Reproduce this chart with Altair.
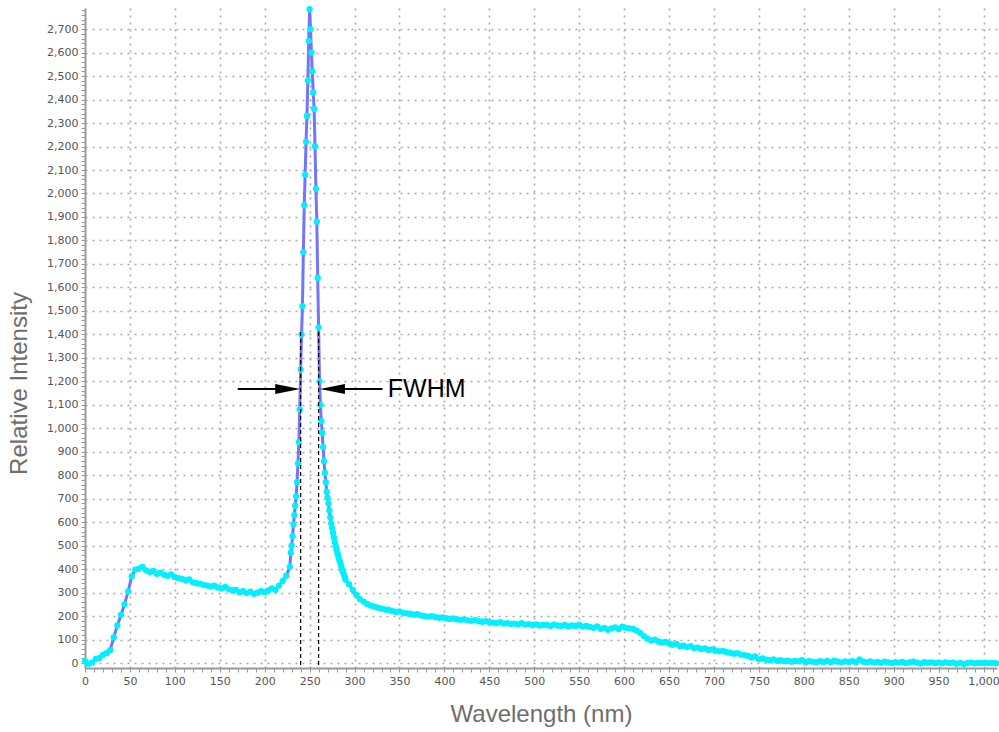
import altair as alt
import pandas as pd

# ---- spectrum ----
wavelength = [
    0, 4, 8, 12, 16, 20, 24, 28, 32, 36, 40, 44, 48, 52, 56, 60, 64, 68, 72, 76,
    80, 84, 88, 92, 96, 100, 104, 108, 112, 116, 120, 124, 128, 132, 136, 140, 144, 148, 152, 156,
    160, 164, 168, 172, 176, 180, 184, 188, 192, 196, 200, 204, 208, 212, 216, 220, 224, 228,
    229, 230, 231, 232, 233, 234, 235, 236, 237, 238, 239, 240, 241, 242, 243, 244, 245, 246, 247, 248,
    249, 250, 251, 252, 253, 254, 255, 256, 257, 258, 259, 260, 261, 262, 263, 264, 265, 266, 267, 268,
    269, 270, 271, 272, 273, 274, 275, 276, 277, 278, 279, 280, 281, 282, 283, 284, 285, 286, 287, 288,
    289, 290, 294, 298, 302, 306, 310, 314, 318, 322, 326, 330, 334, 338, 342, 346, 350, 354, 358, 362,
    366, 370, 374, 378, 382, 386, 390, 394, 398, 402, 406, 410, 414, 418, 422, 426, 430, 434, 438, 442,
    446, 450, 454, 458, 462, 466, 470, 474, 478, 482, 486, 490, 494, 498, 502, 506, 510, 514, 518, 522,
    526, 530, 534, 538, 542, 546, 550, 554, 558, 562, 566, 570, 574, 578, 582, 586, 590, 594, 598, 602,
    606, 610, 614, 618, 622, 626, 630, 634, 638, 642, 646, 650, 654, 658, 662, 666, 670, 674, 678, 682,
    686, 690, 694, 698, 702, 706, 710, 714, 718, 722, 726, 730, 734, 738, 742, 746, 750, 754, 758, 762,
    766, 770, 774, 778, 782, 786, 790, 794, 798, 802, 806, 810, 814, 818, 822, 826, 830, 834, 838, 842,
    846, 850, 854, 858, 862, 866, 870, 874, 878, 882, 886, 890, 894, 898, 902, 906, 910, 914, 918, 922,
    926, 930, 934, 938, 942, 946, 950, 954, 958, 962, 966, 970, 974, 978, 982, 986, 990, 994, 998, 1002,
    1006, 1010, 1014,
]
intensity = [
    8, -3, 2, 18, 22, 35, 42, 55, 110, 160, 205, 250, 305, 370, 398, 402, 410, 395, 388, 392,
    380, 385, 376, 372, 378, 366, 362, 358, 352, 356, 344, 340, 338, 333, 330, 326, 330, 322, 318, 324,
    314, 310, 312, 302, 306, 298, 304, 295, 300, 306, 302, 309, 318, 312, 330, 350, 372, 410,
    470, 500, 540, 590, 630, 670, 710, 770, 850, 940, 1080, 1250, 1400, 1520, 1750, 1950, 2080, 2220, 2330, 2480,
    2650, 2785, 2700, 2600, 2520, 2430, 2360, 2200, 2020, 1880, 1640, 1430, 1200, 1100, 1030, 980, 920, 860, 810, 770,
    730, 705, 680, 650, 620, 595, 575, 555, 535, 515, 498, 482, 468, 455, 440, 428, 415, 400, 390, 378,
    368, 355, 335, 312, 290, 272, 262, 252, 245, 240, 236, 232, 228, 226, 222, 218, 220, 214, 212, 210,
    206, 208, 203, 200, 198, 200, 196, 193, 194, 191, 188, 190, 186, 184, 186, 182, 180, 183, 178, 176,
    179, 174, 172, 170, 174, 168, 170, 166, 168, 165, 170, 164, 166, 162, 165, 160, 163, 162, 158, 164,
    160, 158, 162, 156, 160, 158, 162, 155, 158, 154, 150, 156, 146, 150, 142, 148, 152, 145, 155, 150,
    148, 146, 138, 128, 115, 104, 96, 100, 92, 88, 90, 84, 78, 82, 72, 74, 68, 72, 64, 66,
    60, 62, 56, 58, 54, 50, 52, 46, 44, 40, 42, 36, 34, 30, 24, 28, 16, 20, 14, 12,
    16, 10, 12, 8, 10, 6, 9, 7, 12, 4, 8, 6, 3, 8, 5, 9, 4, 10, 6, 3,
    7, 5, 8, 4, 16, 6, 3, 7, 2, 5, 1, 6, 3, 0, 4, 2, 5, 0, 3, 6,
    2, -2, 4, 1, 3, 0, 2, -1, 3, 0, 2, -3, 1, -4, 0, 2, -1, 1, 0, 1,
    0, 1, 0,
]

# ---- FWHM annotation ----
fwhm_bounds = [240, 260]
dash_top = 1410
arrow_y = 1167
left_arrow = [170, 239.5]    # tail, tip
right_arrow = [331, 261.5]   # tail, tip
label_text = "FWHM"
label_x = 337

# ---- axes ----
x_domain = [0, 1015]
y_domain = [-21, 2790]
x_ticks = list(range(0, 1011, 10))
y_ticks = list(range(0, 2781, 20))

spec = pd.DataFrame({"wl": wavelength, "val": intensity})
dash_df = pd.DataFrame({"wl": fwhm_bounds, "val": [dash_top] * 2, "val2": [y_domain[0]] * 2})
shaft_df = pd.DataFrame({"wl": [left_arrow[0], right_arrow[0]],
                         "wl2": [left_arrow[1] - 5, right_arrow[1] + 5],
                         "val": [arrow_y, arrow_y]})
lhead_df = pd.DataFrame({"wl": [left_arrow[1]], "val": [arrow_y]})
rhead_df = pd.DataFrame({"wl": [right_arrow[1]], "val": [arrow_y]})
text_df = pd.DataFrame({"wl": [label_x], "val": [arrow_y], "t": [label_text]})

FONT = "Liberation Sans"
LFONT = "DejaVu Sans"
xscale = alt.Scale(domain=x_domain, nice=False, zero=False)
yscale = alt.Scale(domain=y_domain, nice=False, zero=False)

common = dict(
    labelFlush=False, labelOverlap=False,
    labelFont=LFONT, labelFontSize=11, labelColor="#555555", labelPadding=3,
    tickSize=4, tickColor="#999999", tickWidth=1,
    domainColor="#999999", domainWidth=2,
    grid=True, gridColor="#a9a9a9", gridWidth=1.6, gridDash=[2, 5],
    titleFont=FONT, titleFontSize=24, titleFontWeight="normal", titleColor="#6e6e6e",
)
x_axis = alt.Axis(
    values=x_ticks,
    labelExpr="datum.value % 50 === 0 ? format(datum.value, ',') : ''",
    gridOpacity={"condition": {"test": "datum.value % 50 === 0 && datum.value > 0", "value": 1}, "value": 0},
    title="Wavelength (nm)", titlePadding=16,
    **common,
)
y_axis = alt.Axis(
    values=y_ticks,
    labelExpr="datum.value % 100 === 0 ? format(datum.value, ',') : ''",
    gridOpacity={"condition": {"test": "datum.value % 100 === 0", "value": 1}, "value": 0},
    title="Relative Intensity", titlePadding=15, titleY=375,
    **common,
)

X = alt.X("wl:Q", scale=xscale, axis=x_axis)
Y = alt.Y("val:Q", scale=yscale, axis=y_axis)

base = alt.Chart(spec)
line = base.mark_line(color="#7474ff", strokeWidth=3).encode(x=X, y=Y)
pts = base.mark_point(filled=True, color="#00f0ff", size=40, opacity=1, strokeWidth=0).encode(x=X, y=Y)
dashes = alt.Chart(dash_df).mark_rule(color="black", strokeWidth=1.2, strokeDash=[4, 3]).encode(
    x=X, y=Y, y2="val2:Q"
)
shafts = alt.Chart(shaft_df).mark_rule(color="black", strokeWidth=2).encode(x=X, x2="wl2:Q", y=Y)
lhead = alt.Chart(lhead_df).mark_point(
    shape="M0,0 L-1,-0.2 L-1,0.2 Z", filled=True, color="black", size=2500, opacity=1
).encode(x=X, y=Y)
rhead = alt.Chart(rhead_df).mark_point(
    shape="M0,0 L1,-0.2 L1,0.2 Z", filled=True, color="black", size=2500, opacity=1
).encode(x=X, y=Y)
label = alt.Chart(text_df).mark_text(
    align="left", baseline="middle", font=FONT, fontSize=25, color="black"
).encode(x=X, y=Y, text="t:N")

chart = alt.layer(line, pts, dashes, shafts, lhead, rhead, label).properties(
    width=912, height=660,
    autosize=alt.AutoSizeParams(type="none"),
    padding={"left": 85, "top": 8, "right": 2, "bottom": 64},
).configure_view(stroke=None)

chart.save("out.html", embed_options={"renderer": "svg", "actions": False})
